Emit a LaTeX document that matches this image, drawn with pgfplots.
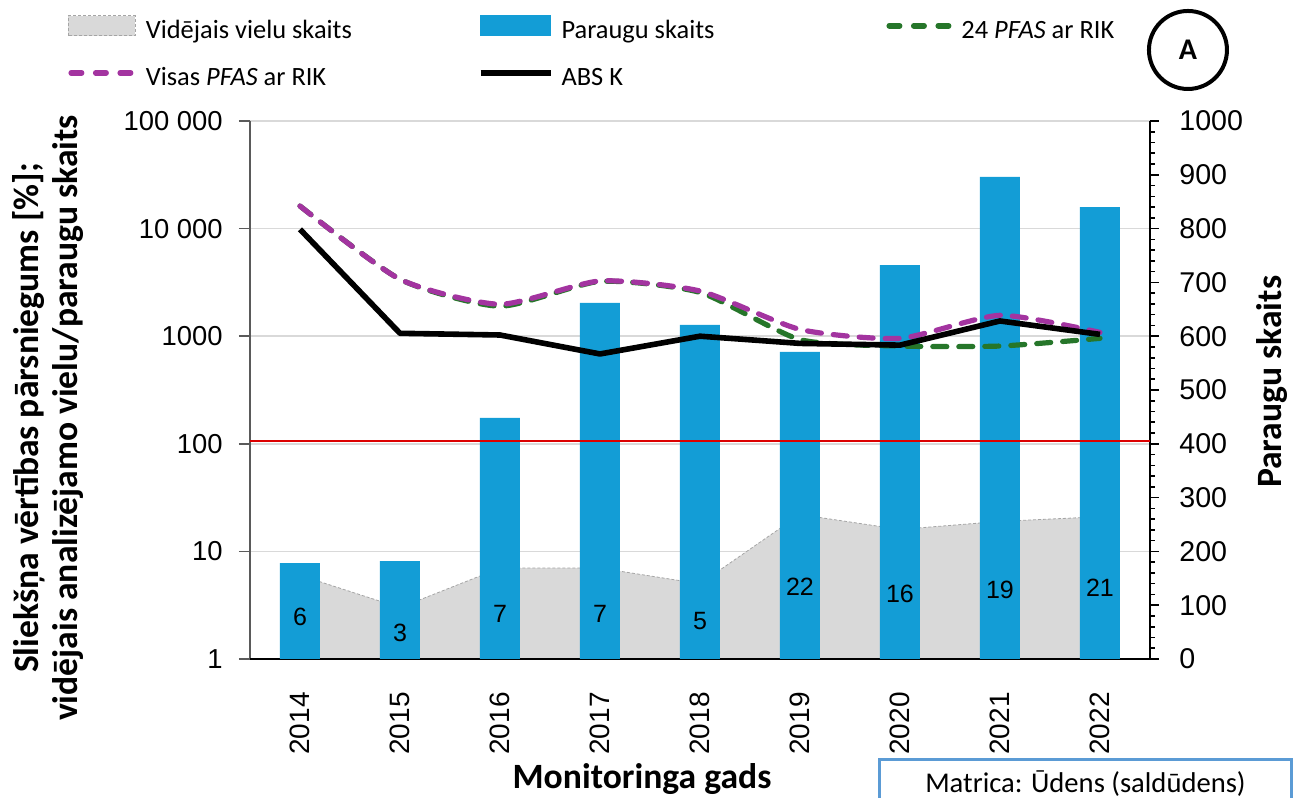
\documentclass[border=0pt]{standalone}
\usepackage{pgfplots}
\pgfplotsset{compat=1.18}
\usepackage{pgfplotstable}
\usepackage{fontspec}
\setmainfont{Carlito}
\newfontfamily\arialf{Liberation Sans}

\definecolor{barblue}{RGB}{19,157,214}
\definecolor{areagray}{RGB}{217,217,217}
\definecolor{areaedge}{RGB}{165,165,165}
\definecolor{pfpurple}{RGB}{163,52,160}
\definecolor{pfgreen}{RGB}{38,118,42}
\definecolor{gridgray}{RGB}{217,217,217}
\definecolor{axgray}{RGB}{90,90,90}
\definecolor{boxblue}{RGB}{91,155,213}
\definecolor{thrred}{RGB}{220,0,0}

\pgfplotstableread{
x area samples abs allpfas pfas24
0 6  178 9850 16200 16200
1 3  182 1064 3380  3380
2 7  448 1026 1980  1900
3 7  662 684  3260  3230
4 5  621 1000 2630  2550
5 22 571 857  1156  930
6 16 732 826  955   810
7 19 896 1385 1564  810
8 21 840 1040 1085  955
}\data

\pgfplotsset{
  arealeg/.style={legend image code/.code={\draw[fill=areagray,draw=areaedge,line width=0.4bp,dash pattern=on 1.5bp off 1bp] (0bp,-1.8bp) rectangle (33.5bp,8.2bp);}},
  barleg/.style={legend image code/.code={\fill[barblue] (0bp,-1.8bp) rectangle (35bp,8.4bp);}},
  greenleg/.style={legend image code/.code={\draw[pfgreen,line width=2.8bp,line cap=round,dash pattern=on 5.2bp off 7.05bp] (1.4bp,3.2bp) -- (31.1bp,3.2bp);}},
  purpleleg/.style={legend image code/.code={\draw[pfpurple,line width=2.8bp,line cap=round,dash pattern=on 5.2bp off 7.05bp] (1.4bp,3.2bp) -- (31.1bp,3.2bp);}},
  blackleg/.style={legend image code/.code={\draw[black,line width=2.8bp] (0bp,3.2bp) -- (35bp,3.2bp);}},
}

\begin{document}
\begin{tikzpicture}
\path[use as bounding box] (-125bp,-69.5bp) rectangle (521.5bp,329.5bp);

% Axis 1: log axis, grid, area
\begin{axis}[scale only axis, width=450bp, height=269bp,
  xmin=-0.5, xmax=8.5, xtick={0,1,2,3,4,5,6,7,8},
  ymode=log, ymin=1, ymax=100000,
  axis x line*=bottom, axis y line*=left,
  x axis line style={black, line width=0.8bp, -},
  y axis line style={axgray, line width=0.8bp, -},
  ytick={1,10,100,1000,10000,100000},
  yticklabels={1,10,100,1000,10 000,100 000},
  yminorticks=false,
  ymajorgrids, grid style={gridgray, line width=0.8bp},
  tick align=outside, major tick length=5.5bp,
  ytick style={axgray, line width=0.8bp},
  xtick style={draw=none},
  xticklabels={2014,2015,2016,2017,2018,2019,2020,2021,2022},
  yticklabel style={font=\arialf\fontsize{13.7bp}{15bp}\selectfont, inner xsep=0pt, anchor=east, xshift=-8bp},
  xticklabel style={font=\arialf\fontsize{14bp}{15bp}\selectfont, inner sep=0pt, yshift=-11bp, rotate=90, anchor=east},
  xlabel={Monitoringa gads},
  every axis x label/.style={at={(axis description cs:0.4356,0)}, anchor=base, yshift=-64.5bp, font=\bfseries\fontsize{17.8bp}{19.5bp}\selectfont},
  ylabel={Sliekšņa vērtības pārsniegums [\%];\\vidējais analizējamo vielu/paraugu skaits},
  every axis y label/.style={at={(axis description cs:-0.2239,0.448)}, rotate=90, anchor=center, align=center, font=\bfseries\fontsize{17.8bp}{19.5bp}\selectfont},
]
\addplot[fill=areagray, draw=areaedge, line width=0.4bp, dash pattern=on 1.5bp off 1bp] table[x=x,y=area]{\data} \closedcycle;
\end{axis}

% Axis 2: linear right axis, bars
\begin{axis}[scale only axis, width=450bp, height=269bp,
  xmin=-0.5, xmax=8.5,
  ymin=0, ymax=1000,
  axis y line*=right, axis x line*=bottom,
  y axis line style={black, line width=0.8bp, -},
  x axis line style={black, line width=0.8bp, -},
  xtick=\empty,
  ytick={0,100,200,300,400,500,600,700,800,900,1000},
  yticklabels={0,100,200,300,400,500,600,700,800,900,1000},
  minor y tick num=4,
  tick align=outside, major tick length=4.5bp, minor tick length=2.5bp,
  ytick style={black, line width=0.8bp},
  minor y tick style={black, line width=0.8bp},
  yticklabel style={font=\arialf\fontsize{14.3bp}{15bp}\selectfont, inner xsep=0pt, anchor=west, xshift=10bp},
  ylabel={Paraugu skaits},
  every axis y label/.style={at={(axis description cs:1.1356,0.515)}, rotate=90, anchor=center, font=\bfseries\fontsize{17.8bp}{19.5bp}\selectfont},
]
\addplot[ybar, bar width=0.4, fill=barblue, draw=none] table[x=x,y=samples]{\data};
\end{axis}

% Axis 3: log axis, lines, labels, legend
\begin{axis}[scale only axis, width=450bp, height=269bp,
  xmin=-0.5, xmax=8.5,
  ymode=log, ymin=1, ymax=100000,
  hide axis, clip=false,
  legend columns=3,
  legend cell align=left,
  legend style={
    at={(axis description cs:-0.2022,1.197)}, anchor=north west,
    draw=none, fill=none, inner sep=0pt, outer sep=0pt,
    font=\fontsize{13.2bp}{15bp}\selectfont,
    nodes={inner sep=0pt, text height=9.5bp, text depth=2.8bp},
    row sep=11.2bp,
    /tikz/column 1/.style={column sep=5bp},
    /tikz/column 2/.style={column sep=63bp},
    /tikz/column 3/.style={column sep=4bp},
    /tikz/column 4/.style={column sep=86bp},
    /tikz/column 5/.style={column sep=5bp},
  },
]
\addplot[forget plot, thrred, line width=0.75bp] coordinates {(-0.5,106) (8.5,106)};
\addplot[forget plot, smooth, tension=0.38, pfgreen, line width=2.6bp, line cap=round, dash pattern=on 7bp off 6bp] table[x=x,y=pfas24]{\data};
\addplot[forget plot, smooth, tension=0.38, pfpurple, line width=2.6bp, line cap=round, dash pattern=on 7bp off 6bp] table[x=x,y=allpfas]{\data};
\addplot[forget plot, black, line width=2.8bp, line join=round] table[x=x,y=abs]{\data};
\addplot[forget plot, draw=none, mark=none, nodes near coords={\arialf\pgfmathprintnumber[assume math mode=true]{\pgfplotspointmeta}}, point meta=rawy,
  visualization depends on={rawy \as \rawyv},
  every node near coord/.style={anchor=center, inner sep=0pt, font=\arialf\fontsize{12.5bp}{14bp}\selectfont, yshift={-26.9bp*log10(\rawyv)}}]
  table[x=x,y=area]{\data};

\addlegendimage{arealeg}\addlegendentry{Vidējais vielu skaits}
\addlegendimage{barleg}\addlegendentry{Paraugu skaits}
\addlegendimage{greenleg}\addlegendentry{24 \textit{PFAS} ar RIK}
\addlegendimage{purpleleg}\addlegendentry{Visas \textit{PFAS} ar RIK}
\addlegendimage{blackleg}\addlegendentry{ABS K}

\draw[line width=2bp] (rel axis cs:1.0422,1.132) circle [radius=19.5bp];
\node[font=\bfseries\fontsize{15bp}{15bp}\selectfont] at (rel axis cs:1.0422,1.132) {A};
\node[draw=boxblue, line width=1.5bp, anchor=north west, minimum width=206bp, minimum height=24bp, inner sep=0pt, font=\fontsize{14.3bp}{16bp}\selectfont] at (rel axis cs:0.6978,-0.184) {Matrica: Ūdens (saldūdens)};
\end{axis}
\end{tikzpicture}
\end{document}
